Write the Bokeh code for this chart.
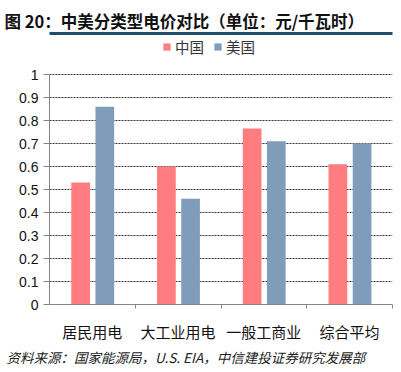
from bokeh.plotting import figure
from bokeh.models import (Range1d, FixedTicker, NumeralTickFormatter, Title,
                          Legend, LegendItem, LinearAxis)
from bokeh.embed import file_html
from bokeh.resources import INLINE

# ---- data ----
categories = ["居民用电", "大工业用电", "一般工商业", "综合平均"]
china = [0.53, 0.60, 0.765, 0.61]
usa = [0.86, 0.46, 0.71, 0.70]
series_names = ["中国", "美国"]
y_ticks = [0, 0.1, 0.2, 0.3, 0.4, 0.5, 0.6, 0.7, 0.8, 0.9, 1]
title_text = "图 20：中美分类型电价对比（单位：元/千瓦时）"
source_text = "资料来源：国家能源局，U.S. EIA，中信建投证券研究发展部"

CN_COLOR = "#FF7C80"
US_COLOR = "#7F9DBA"
CJK = "Noto Sans CJK SC"
W, H = 400, 371
FRAME_TOP, FRAME_BOTTOM = 33, 304
PX_PER_UNIT = 230.0
y_max = (FRAME_BOTTOM - FRAME_TOP) / PX_PER_UNIT

p = figure(width=W, height=H, x_range=Range1d(0, len(categories)),
           y_range=Range1d(0, y_max), output_backend="svg",
           toolbar_location=None, min_border_left=49, min_border_right=8,
           min_border_top=FRAME_TOP, min_border_bottom=H - FRAME_BOTTOM)
p.outline_line_color = None

idx = list(range(len(categories)))
x_cn = [i + 0.5 - 0.137 for i in idx]
x_us = [i + 0.5 + 0.145 for i in idx]
r_cn = p.vbar(x=x_cn, top=china, bottom=0, width=0.218, fill_color=CN_COLOR,
              line_color=None)
r_us = p.vbar(x=x_us, top=usa, bottom=0, width=0.218, fill_color=US_COLOR,
              line_color=None)

xa = p.xaxis[0]
xa.ticker = FixedTicker(ticks=[i + 0.5 for i in idx],
                        minor_ticks=[i + 1 for i in idx])
xa.major_label_overrides = {i + 0.5: c for i, c in zip(idx, categories)}
xa.major_tick_line_color = None
xa.major_tick_out = 0
xa.major_tick_in = 0
xa.minor_tick_out = 4
xa.minor_tick_in = 0
xa.minor_tick_line_color = "#868686"
xa.axis_line_color = "#868686"
xa.major_label_text_font = CJK
xa.major_label_text_font_size = "15px"
xa.major_label_text_color = "#111111"
xa.major_label_standoff = 12

ya = p.yaxis[0]
ya.ticker = FixedTicker(ticks=y_ticks)
ya.bounds = (0, 1)
ya.formatter = NumeralTickFormatter(format="0.[0]")
ya.major_tick_out = 6
ya.major_tick_in = 0
ya.minor_tick_line_color = None
ya.major_tick_line_color = "#868686"
ya.axis_line_color = "#868686"
ya.major_label_text_font = "Liberation Sans"
ya.major_label_text_font_size = "14px"
ya.major_label_text_color = "#111111"
ya.major_label_standoff = 5

p.xgrid.grid_line_color = None
p.ygrid.ticker = FixedTicker(ticks=y_ticks)
p.ygrid.grid_line_color = "#333333"
p.ygrid.grid_line_dash = "2 1"
p.ygrid.grid_line_width = 1

legend = Legend(items=[LegendItem(label=series_names[0], renderers=[r_cn]),
                       LegendItem(label=series_names[1], renderers=[r_us])],
                orientation="horizontal", location=(113, 247),
                glyph_width=9, glyph_height=9, label_standoff=4, spacing=9,
                padding=0, margin=0, border_line_color=None,
                background_fill_alpha=0, label_text_font=CJK,
                label_text_font_size="14.5px", label_text_color="#333333",
                label_height=18)
p.add_layout(legend)

# dark rule under the heading, drawn as a bare axis line on top of the frame
rule_axis = LinearAxis(ticker=FixedTicker(ticks=[]), axis_line_color="#1F4E6B",
                       axis_line_width=3, major_tick_line_color=None,
                       minor_tick_line_color=None, major_tick_out=0,
                       major_tick_in=0, minor_tick_out=0, minor_tick_in=0,
                       major_label_text_font_size="0px",
                       major_label_standoff=0)
p.add_layout(rule_axis, "above")

title = Title(text=title_text, align="left", offset=-45, text_font=CJK,
              text_font_size="16.5px", text_font_style="bold",
              text_color="#111111", standoff=0, vertical_align="middle")
p.add_layout(title, "above")

footer = Title(text=source_text, align="left", offset=-43, text_font=CJK,
               text_font_size="13.5px", text_font_style="italic",
               text_color="#222222", standoff=0)
p.add_layout(footer, "below")

open("out.html", "w").write(file_html(p, INLINE))
